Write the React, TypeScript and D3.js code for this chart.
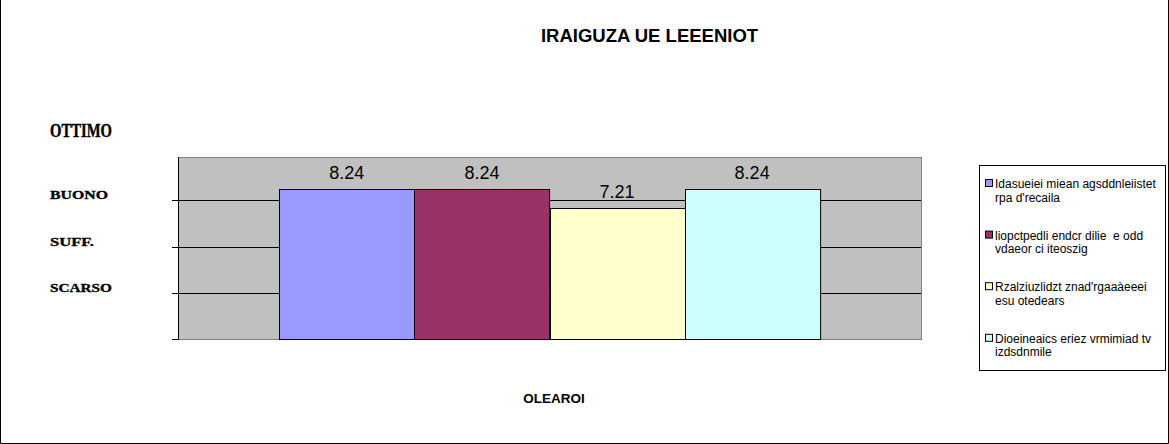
import React, { useEffect, useRef } from 'react'
import * as d3 from 'd3'

const title = 'IRAIGUZA UE LEEENIOT'
const category = 'OLEAROI'
const seriesNames = [
  'Idasueiei miean agsddnleiistet\nrpa d\'recaila',
  'liopctpedli endcr dilie  e odd\nvdaeor ci iteoszig',
  'Rzalziuzlidzt znad\'rgaaàeeei\nesu otedears',
  'Dioeineaics eriez vrmimiad tv\nizdsdnmile',
]
const seriesValues = [8.24, 8.24, 7.21, 8.24]
const seriesColors = ['#9999FF', '#993366', '#FFFFCC', '#CCFFFF']
const gridValues = [2.54, 5.08, 7.62]
const levelLabels = ['SCARSO', 'SUFF.', 'BUONO']
const topLabel = 'OTTIMO'

function App() {
  const ref = useRef<SVGSVGElement>(null)

  useEffect(() => {
    const w = 1169
    const h = 444
    const svg = d3.select(ref.current).attr('width', w).attr('height', h)
    svg.selectAll('*').remove()

    const left = 178, right = 921, top = 157, bottom = 339

    // outer frame
    svg.append('path')
      .attr('d', `M0.5,0 V${h - 0.5} H${w - 0.5} V0`)
      .attr('fill', 'none')
      .attr('stroke', 'black')

    const y = d3.scaleLinear().domain([0, 10]).range([bottom, top])
    const x = d3.scaleBand<string>()
      .domain(seriesNames)
      .range([left, right])
      .paddingInner(0)
      .paddingOuter(0.75)

    // plot area
    svg.append('rect')
      .attr('x', left + 0.5).attr('y', top + 0.5)
      .attr('width', right - left).attr('height', bottom - top)
      .attr('fill', '#C0C0C0')
      .attr('stroke', '#808080')

    // grid
    svg.append('g')
      .selectAll('line')
      .data(gridValues)
      .join('line')
      .attr('x1', left - 6).attr('x2', right)
      .attr('y1', d => Math.round(y(d)) + 0.5)
      .attr('y2', d => Math.round(y(d)) + 0.5)
      .attr('stroke', 'black')

    // bars
    svg.append('g')
      .selectAll('rect')
      .data(seriesValues)
      .join('rect')
      .attr('x', (d, i) => Math.round(x(seriesNames[i])!) + 0.5)
      .attr('y', d => Math.round(y(d)) + 0.5)
      .attr('width', x.bandwidth())
      .attr('height', d => bottom - Math.round(y(d)))
      .attr('fill', (d, i) => seriesColors[i])
      .attr('stroke', 'black')

    // value labels
    svg.append('g')
      .selectAll('text')
      .data(seriesValues)
      .join('text')
      .text(d => d.toFixed(2))
      .attr('x', (d, i) => x(seriesNames[i])! + x.bandwidth() / 2)
      .attr('y', d => y(d) - 10)
      .attr('text-anchor', 'middle')
      .attr('font-family', 'Arial, "Liberation Sans", sans-serif')
      .attr('font-size', 18)
      .attr('fill', 'black')

    // y axis line and ticks
    svg.append('line')
      .attr('x1', left + 0.5).attr('x2', left + 0.5)
      .attr('y1', top).attr('y2', bottom + 1)
      .attr('stroke', 'black')
    svg.append('line')
      .attr('x1', left - 6).attr('x2', left + 1)
      .attr('y1', bottom + 0.5).attr('y2', bottom + 0.5)
      .attr('stroke', 'black')

    // level labels
    const lvlWidths = [62, 44, 58]
    svg.append('g')
      .selectAll('text')
      .data(gridValues)
      .join('text')
      .text((d, i) => levelLabels[i])
      .attr('x', 50)
      .attr('y', d => y(d) - 1)
      .attr('font-family', '"Times New Roman", "Liberation Serif", serif')
      .attr('font-weight', 'bold')
      .attr('font-size', 11.5)
      .attr('stroke', 'black')
      .attr('stroke-width', 0.3)
      .attr('textLength', (d, i) => lvlWidths[i])
      .attr('lengthAdjust', 'spacingAndGlyphs')
    svg.append('text')
      .text(topLabel)
      .attr('x', 50)
      .attr('y', y(10) - 20)
      .attr('font-family', '"Times New Roman", "Liberation Serif", serif')
      .attr('font-weight', 'bold')
      .attr('font-size', 19)
      .attr('stroke', 'black')
      .attr('stroke-width', 0.4)
      .attr('textLength', 62)
      .attr('lengthAdjust', 'spacingAndGlyphs')

    // title
    svg.append('text')
      .text(title)
      .attr('x', 649.5)
      .attr('y', 41.5)
      .attr('text-anchor', 'middle')
      .attr('font-family', 'Arial, "Liberation Sans", sans-serif')
      .attr('font-weight', 'bold')
      .attr('font-size', 18.5)

    // x axis title
    svg.append('text')
      .text(category)
      .attr('x', 554)
      .attr('y', 402.5)
      .attr('text-anchor', 'middle')
      .attr('font-family', 'Arial, "Liberation Sans", sans-serif')
      .attr('font-weight', 'bold')
      .attr('font-size', 13.5)

    // legend
    const lg = svg.append('g')
    lg.append('rect')
      .attr('x', 979.5).attr('y', 165.5)
      .attr('width', 186).attr('height', 205)
      .attr('fill', 'white')
      .attr('stroke', 'black')
    const item = lg.selectAll('g.item')
      .data(seriesNames)
      .join('g')
      .attr('class', 'item')
      .attr('transform', (d, i) => `translate(0, ${178 + i * 51.6})`)
    item.append('rect')
      .attr('x', 985.5).attr('y', 1.5)
      .attr('width', 7).attr('height', 7)
      .attr('fill', (d, i) => seriesColors[i])
      .attr('stroke', 'black')
    item.append('text')
      .attr('font-family', 'Arial, "Liberation Sans", sans-serif')
      .attr('font-size', 12)
      .style('white-space', 'pre')
      .selectAll('tspan')
      .data(d => d.split('\n'))
      .join('tspan')
      .attr('x', 995)
      .attr('y', (d, i) => 10 + i * 13.5)
      .text(d => d)
  }, [])

  return (
    <div style={{ position: 'absolute', left: 0, top: 0 }}>
      <svg ref={ref} style={{ display: 'block' }}></svg>
    </div>
  )
}

export default App
